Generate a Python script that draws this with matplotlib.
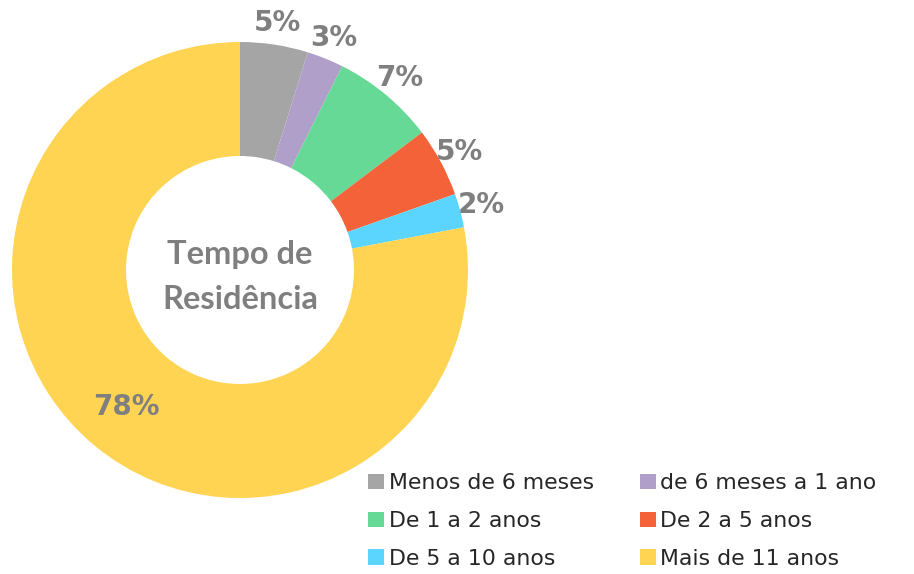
import matplotlib
matplotlib.use("Agg")
import matplotlib.pyplot as plt
import numpy as np
from matplotlib.patches import Patch

categories = ["Menos de 6 meses", "de 6 meses a 1 ano", "De 1 a 2 anos",
              "De 2 a 5 anos", "De 5 a 10 anos", "Mais de 11 anos"]
values = [4.8, 2.6, 7.3, 4.9, 2.4, 78.0]
pct_labels = ["5%", "3%", "7%", "5%", "2%", "78%"]
colors = ["#a5a5a5", "#b09fc9", "#66d996", "#f4623a", "#5bd5fd", "#ffd452"]
center_title = "Tempo de\nResidência"

fig = plt.figure(figsize=(9.14, 5.74), dpi=100)
ax = fig.add_axes([12/914, 76/574, 456/914, 456/574])
wedges, _ = ax.pie(values, colors=colors, startangle=90, counterclock=False,
                   radius=1.0, wedgeprops=dict(width=0.5, edgecolor="none"))
ax.set_xlim(-1, 1)
ax.set_ylim(-1, 1)
ax.set_aspect("equal")
ax.axis("off")

lab_font = dict(family="DejaVu Sans", fontsize=20, fontweight="bold", color="#7f7f7f")
for w, lab in zip(wedges, pct_labels):
    mid = np.deg2rad((w.theta1 + w.theta2) / 2)
    r = 0.78 if lab == "78%" else 1.095
    ax.text(r * np.cos(mid), r * np.sin(mid), lab, ha="center", va="center", **lab_font)

ax.text(0, -0.03, center_title, ha="center", va="center", family="Lato",
        fontsize=23.5, fontweight="bold", color="#7f7f7f", linespacing=1.65)

order = [0, 2, 4, 1, 3, 5]
handles = [Patch(facecolor=colors[i], edgecolor="none", label=categories[i]) for i in order]
leg = fig.legend(handles=handles, ncol=2, loc="upper left",
                 bbox_to_anchor=(368/914, 1 - 473/574), frameon=False,
                 prop=dict(family="DejaVu Sans", size=15.8),
                 handlelength=0.72, handleheight=0.72, handletextpad=0.22,
                 columnspacing=2.1, labelspacing=0.82, borderaxespad=0, borderpad=0)
for t in leg.get_texts():
    t.set_color("#262626")

fig.savefig("out.png", dpi=100)
